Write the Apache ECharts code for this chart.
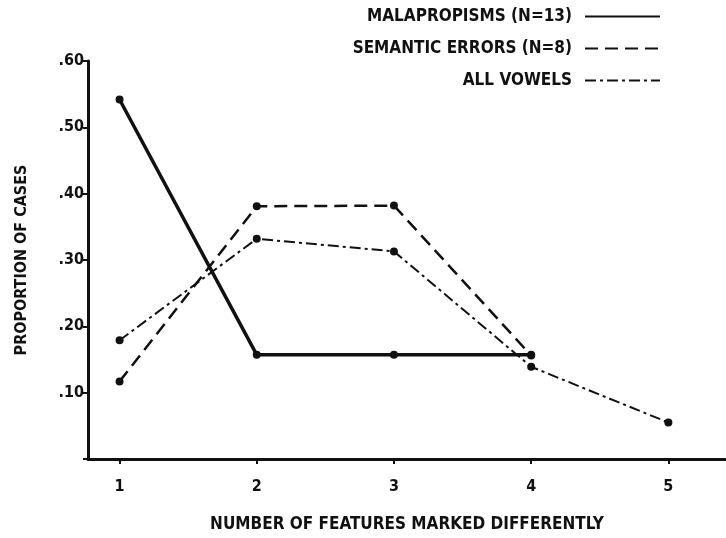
<!DOCTYPE html>
<html>
<head>
<meta charset="utf-8">
<script src="https://cdn.jsdelivr.net/npm/echarts@6/dist/echarts.min.js"></script>
<style>html,body{margin:0;padding:0;background:#fff}#c{width:726px;height:538px}</style>
</head>
<body>
<div id="c"></div>
<script>
var categories = [1, 2, 3, 4, 5];
var yTicks = [0.1, 0.2, 0.3, 0.4, 0.5, 0.6];
var malapropisms = [0.542, 0.157, 0.157, 0.157];
var semanticErrors = [0.117, 0.381, 0.382, 0.156];
var allVowels = [0.179, 0.332, 0.313, 0.139, 0.055];
var seriesNames = ['MALAPROPISMS (N=13)', 'SEMANTIC ERRORS (N=8)', 'ALL VOWELS'];

function pairs(vals) { return vals.map(function (v, i) { return [categories[i], v]; }); }

var FONT = '"DejaVu Sans Condensed", sans-serif';
var chart = echarts.init(document.getElementById('c'));
chart.setOption({
  animation: false,
  backgroundColor: '#fff',
  grid: { left: 88, right: 0, top: 61, bottom: 74, containLabel: false },
  legend: {
    orient: 'vertical', right: 60, top: 3, align: 'right', itemGap: 15,
    itemWidth: 75, itemHeight: 14,
    textStyle: { fontFamily: FONT, fontWeight: 'bold', fontSize: 17, color: '#111', padding: [0, 8, 0, 0] },
    itemStyle: { opacity: 0 },
    data: seriesNames
  },
  xAxis: {
    type: 'value', min: 0.77, max: 5.42,
    name: 'NUMBER OF FEATURES MARKED DIFFERENTLY', nameLocation: 'middle', nameGap: 57,
    nameTextStyle: { fontFamily: FONT, fontWeight: 'bold', fontSize: 17, color: '#111' },
    axisLine: { lineStyle: { color: '#111', width: 3 } },
    axisTick: { show: true, length: 5, lineStyle: { color: '#111', width: 2 }, customValues: categories },
    axisLabel: { customValues: categories, margin: 20, fontFamily: FONT, fontWeight: 'bold', fontSize: 16, color: '#111' },
    splitLine: { show: false }
  },
  yAxis: {
    type: 'value', min: 0, max: 0.6, interval: 0.1,
    name: 'PROPORTION OF CASES', nameLocation: 'middle', nameGap: 58, nameRotate: 90,
    nameTextStyle: { fontFamily: FONT, fontWeight: 'bold', fontSize: 16, color: '#111' },
    axisLine: { show: true, lineStyle: { color: '#111', width: 3 } },
    axisTick: { show: true, length: 5, lineStyle: { color: '#111', width: 2 } },
    axisLabel: {
      margin: 4, fontFamily: FONT, fontWeight: 'bold', fontSize: 16, color: '#111',
      formatter: function (v) { return v === 0 ? '' : v.toFixed(2).replace(/^0/, ''); }
    },
    splitLine: { show: false }
  },
  series: [
    { name: seriesNames[0], type: 'line', data: pairs(malapropisms), symbol: 'circle', symbolSize: 8,
      itemStyle: { color: '#111' }, lineStyle: { color: '#111', width: 3.5, type: 'solid' } },
    { name: seriesNames[1], type: 'line', data: pairs(semanticErrors), symbol: 'circle', symbolSize: 8,
      itemStyle: { color: '#111' }, lineStyle: { color: '#111', width: 2.5, type: [13, 7] } },
    { name: seriesNames[2], type: 'line', data: pairs(allVowels), symbol: 'circle', symbolSize: 8,
      itemStyle: { color: '#111' }, lineStyle: { color: '#111', width: 2, type: [11, 4, 3, 4] } }
  ]
});
</script>
</body>
</html>
